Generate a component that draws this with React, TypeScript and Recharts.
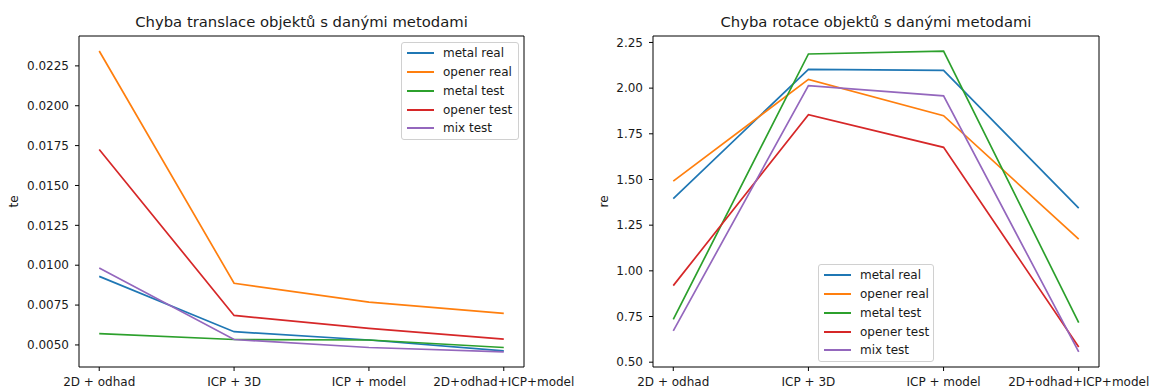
import React from 'react';
import { LineChart, Line, XAxis, YAxis, Legend, ReferenceArea } from 'recharts';

const methods = ['2D + odhad', 'ICP + 3D', 'ICP + model', '2D+odhad+ICP+model'];
const seriesNames = ['metal real', 'opener real', 'metal test', 'opener test', 'mix test'];
const seriesKeys = ['metalReal', 'openerReal', 'metalTest', 'openerTest', 'mixTest'];
const colors = ['#1f77b4', '#ff7f0e', '#2ca02c', '#d62728', '#9467bd'];

// translation error (te)
const teMetalReal = [0.0093, 0.00583, 0.00531, 0.00463];
const teOpenerReal = [0.02343, 0.00887, 0.00768, 0.00698];
const teMetalTest = [0.00571, 0.00534, 0.00531, 0.00484];
const teOpenerTest = [0.01726, 0.00685, 0.00604, 0.00537];
const teMixTest = [0.00983, 0.00534, 0.00484, 0.00456];
const teTicks = [0.005, 0.0075, 0.01, 0.0125, 0.015, 0.0175, 0.02, 0.0225];

// rotation error (re)
const reMetalReal = [1.395, 2.103, 2.097, 1.343];
const reOpenerReal = [1.491, 2.048, 1.849, 1.174];
const reMetalTest = [0.734, 2.187, 2.203, 0.716];
const reOpenerTest = [0.919, 1.855, 1.676, 0.583];
const reMixTest = [0.671, 2.014, 1.958, 0.556];
const reTicks = [0.5, 0.75, 1.0, 1.25, 1.5, 1.75, 2.0, 2.25];

const FONT = '"DejaVu Sans", sans-serif';
const TEXT = '#1a1a1a';
const X_DOMAIN: [number, number] = [-0.15, 3.15];

const buildRows = (series: number[][]) =>
  methods.map((m, i) => {
    const row: any = { i };
    seriesKeys.forEach((k, s) => (row[k] = series[s][i]));
    return row;
  });

// matplotlib style 5% margins
const padDomain = (series: number[][]): [number, number] => {
  const all = series.flat();
  const lo = Math.min(...all);
  const hi = Math.max(...all);
  const pad = (hi - lo) * 0.05;
  return [lo - pad, hi + pad];
};

const LegendBox = ({ payload }: any) => {
  // keep plotting order, recharts sorts by name
  const items = [...(payload || [])].sort(
    (a: any, b: any) => seriesNames.indexOf(a.value) - seriesNames.indexOf(b.value)
  );
  return (
    <div
      style={{
        border: '1px solid #d0d0d0',
        borderRadius: 3,
        background: 'rgba(255,255,255,0.8)',
        padding: '1px 0 1px 0',
        fontFamily: FONT,
        fontSize: 12,
        color: TEXT,
        boxSizing: 'border-box',
      }}
    >
      {items.map((p: any) => (
        <div key={p.value} style={{ display: 'flex', alignItems: 'center', height: 18.75, whiteSpace: 'nowrap' }}>
          <div style={{ width: 27, height: 2, background: p.color, marginLeft: 5, marginRight: 9 }} />
          <span>{p.value}</span>
        </div>
      ))}
    </div>
  );
};

type PanelProps = {
  title: string;
  yLabel: string;
  series: number[][];
  ticks: number[];
  decimals: number;
  yAxisWidth: number;
  marginRight: number;
  labelX: number;
  legendLeft: number;
  legendTop: number;
  legendWidth: number;
};

const Panel = (p: PanelProps) => {
  const rows = buildRows(p.series);
  const domain = padDomain(p.series);
  const plotCenter = (p.yAxisWidth + 577 - p.marginRight) / 2;
  return (
    <div style={{ position: 'relative', width: 577, height: 388 }}>
      <div
        style={{
          position: 'absolute',
          top: 14,
          left: plotCenter - 250,
          width: 500,
          textAlign: 'center',
          fontFamily: FONT,
          fontSize: 14.8,
          lineHeight: '15px',
          color: TEXT,
        }}
      >
        {p.title}
      </div>
      <LineChart width={577} height={388} data={rows} margin={{ top: 36, right: p.marginRight, bottom: 0, left: 0 }}>
        <XAxis
          dataKey="i"
          type="number"
          domain={X_DOMAIN}
          ticks={[0, 1, 2, 3]}
          interval={0}
          allowDataOverflow
          tickFormatter={(v: number) => methods[v]}
          height={21}
          axisLine={false}
          tickSize={4}
          tickMargin={6}
          tickLine={{ stroke: '#000' }}
          tick={{ fontFamily: FONT, fontSize: 12, fill: TEXT }}
        />
        <YAxis
          type="number"
          domain={domain}
          ticks={p.ticks}
          interval={0}
          allowDataOverflow
          tickFormatter={(v: number) => v.toFixed(p.decimals)}
          width={p.yAxisWidth}
          axisLine={false}
          tickSize={4}
          tickMargin={6}
          tickLine={{ stroke: '#000' }}
          tick={{ fontFamily: FONT, fontSize: 12, fill: TEXT }}
          label={{
            content: (lp: any) => {
              const vb = lp.viewBox || { y: 36, height: 331 };
              const cy = vb.y + vb.height / 2;
              return (
                <text
                  x={p.labelX}
                  y={cy}
                  transform={`rotate(-90 ${p.labelX} ${cy})`}
                  textAnchor="middle"
                  fontFamily={FONT}
                  fontSize={12}
                  fill={TEXT}
                >
                  {p.yLabel}
                </text>
              );
            },
          }}
        />
        <Legend
          layout="horizontal"
          verticalAlign="middle"
          align="center"
          wrapperStyle={{ left: p.legendLeft, top: p.legendTop, width: p.legendWidth }}
          content={<LegendBox />}
        />
        {seriesKeys.map((k, s) => (
          <Line
            key={k}
            dataKey={k}
            name={seriesNames[s]}
            stroke={colors[s]}
            strokeWidth={1.7}
            dot={false}
            activeDot={false}
            type="linear"
            isAnimationActive={false}
          />
        ))}
        <ReferenceArea
          x1={X_DOMAIN[0]}
          x2={X_DOMAIN[1]}
          y1={domain[0]}
          y2={domain[1]}
          fill="none"
          fillOpacity={0}
          stroke="#000"
          strokeWidth={1}
          ifOverflow="visible"
        />
      </LineChart>
    </div>
  );
};

export default function App() {
  return (
    <div style={{ position: 'absolute', left: 0, top: 0, width: 1154, height: 388, display: 'flex', background: '#fff' }}>
      <Panel
        title="Chyba translace objektů s danými metodami"
        yLabel="te"
        series={[teMetalReal, teOpenerReal, teMetalTest, teOpenerTest, teMixTest]}
        ticks={teTicks}
        decimals={4}
        yAxisWidth={79}
        marginRight={53}
        labelX={18}
        legendLeft={401}
        legendTop={42}
        legendWidth={118}
      />
      <Panel
        title="Chyba rotace objektů s danými metodami"
        yLabel="re"
        series={[reMetalReal, reOpenerReal, reMetalTest, reOpenerTest, reMixTest]}
        ticks={reTicks}
        decimals={2}
        yAxisWidth={76}
        marginRight={55}
        labelX={31}
        legendLeft={241}
        legendTop={264}
        legendWidth={116}
      />
    </div>
  );
}
